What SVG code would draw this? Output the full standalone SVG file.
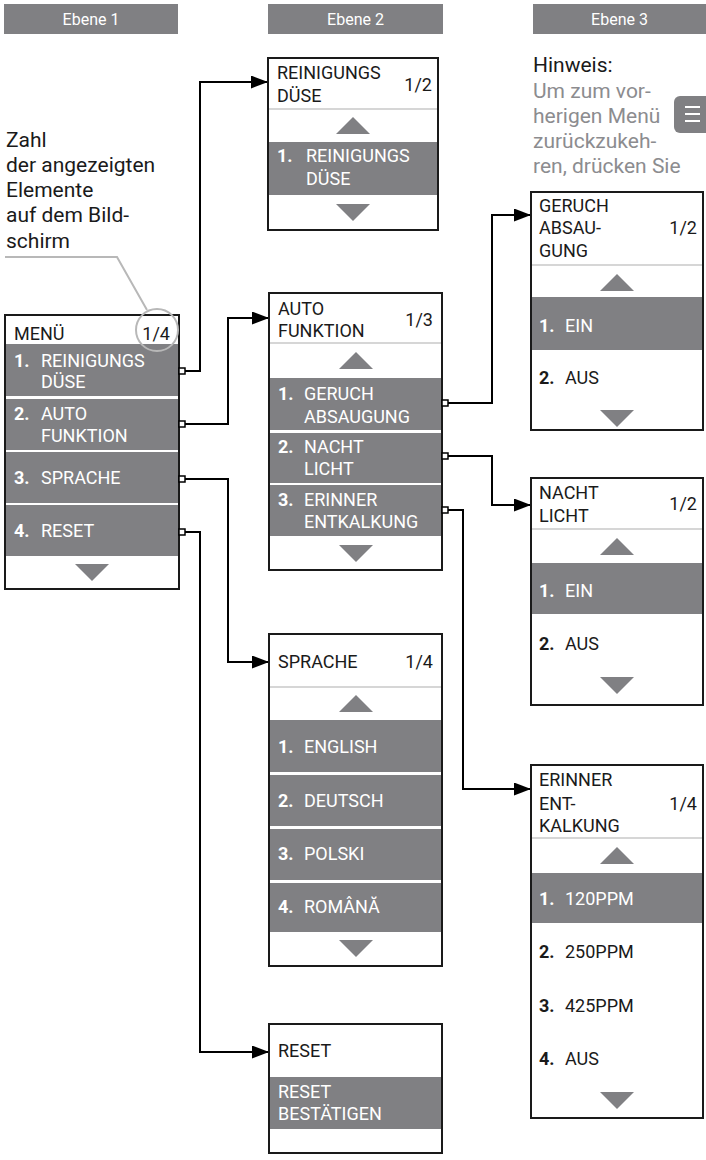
<svg xmlns="http://www.w3.org/2000/svg" width="706" height="1160" viewBox="0 0 706 1160">
<style>
.bar{fill:#808083}
.bt{font-family:Roboto,"Liberation Sans",sans-serif;font-size:16px;fill:#fff;text-anchor:middle}
.box{fill:#fff;stroke:#1a1a1a;stroke-width:2}
.sel{fill:#808083}
.sep{stroke:#c8c8c8;stroke-width:1.5}
.tri{fill:#808083}
.t{font-family:Roboto,"Liberation Sans",sans-serif;font-size:18px;fill:#1a1a1a}
.w{fill:#fff}
.b{font-weight:bold}
.e{text-anchor:end}
.note{font-family:Roboto,"Liberation Sans",sans-serif;font-size:21px;fill:#1a1a1a}
.hint{fill:#8c8c8f}
.conn{fill:none;stroke:#000;stroke-width:2}
.port{fill:#fff;stroke:#000;stroke-width:1.5}
.ann{fill:none;stroke:#b8b8b8;stroke-width:2}
</style>
<defs>
<marker id="ah" markerUnits="userSpaceOnUse" markerWidth="17" markerHeight="13" refX="17" refY="6.5" orient="auto">
<path d="M0,0 L17,6.5 L0,13 z" fill="#000"/>
</marker>
</defs>

<g id="headers">
<rect class="bar" x="4" y="4" width="174" height="30"/>
<text class="bt" x="91" y="25">Ebene 1</text>
<rect class="bar" x="268" y="4" width="175" height="30"/>
<text class="bt" x="355.5" y="25">Ebene 2</text>
<rect class="bar" x="533" y="4" width="173" height="30"/>
<text class="bt" x="619.5" y="25">Ebene 3</text>
</g>

<g id="annotation">
<text class="note" x="6" y="147">Zahl</text>
<text class="note" x="6" y="172">der angezeigten</text>
<text class="note" x="6" y="197">Elemente</text>
<text class="note" x="6" y="222">auf dem Bild-</text>
<text class="note" x="6" y="248">schirm</text>
<polyline class="ann" points="5,257 117,257 147,310"/>
</g>

<g id="hint">
<text class="note" x="533" y="72">Hinweis:</text>
<text class="note hint" x="533" y="98">Um zum vor-</text>
<text class="note hint" x="533" y="123">herigen Menü</text>
<text class="note hint" x="533" y="148">zurückzukeh-</text>
<text class="note hint" x="533" y="173">ren, drücken Sie</text>
<rect x="674" y="96" width="40" height="37" rx="6" fill="#808083"/>
<path d="M685,107 H700 M685,114 H700 M685,121 H700" stroke="#fff" stroke-width="2"/>
</g>

<g id="connectors">
<polyline class="conn" points="185,371 200,371 200,82 268,82" marker-end="url(#ah)"/>
<polyline class="conn" points="185,424 228,424 228,318 269,318" marker-end="url(#ah)"/>
<polyline class="conn" points="185,479 228,479 228,662 269,662" marker-end="url(#ah)"/>
<polyline class="conn" points="185,532 200,532 200,1052 269,1052" marker-end="url(#ah)"/>
<polyline class="conn" points="448,403 492,403 492,215 531,215" marker-end="url(#ah)"/>
<polyline class="conn" points="448,456 492,456 492,505 531,505" marker-end="url(#ah)"/>
<polyline class="conn" points="448,510 463,510 463,789 531,789" marker-end="url(#ah)"/>
</g>

<g id="menu">
<rect class="box" x="5" y="315" width="174" height="274"/>
<rect class="sel" x="6" y="344" width="172" height="52"/>
<rect class="sel" x="6" y="399" width="172" height="51"/>
<rect class="sel" x="6" y="452" width="172" height="51"/>
<rect class="sel" x="6" y="505" width="172" height="51"/>
<polygon class="tri" points="75,564 109,564 92,581"/>
<text class="t" x="14" y="340">MENÜ</text>
<text class="t e" x="170" y="340">1/4</text>
<text class="t w b" x="14" y="367">1.</text>
<text class="t w" x="41" y="367">REINIGUNGS</text>
<text class="t w" x="41" y="388">DÜSE</text>
<text class="t w b" x="14" y="420">2.</text>
<text class="t w" x="41" y="420">AUTO</text>
<text class="t w" x="41" y="442">FUNKTION</text>
<text class="t w b" x="14" y="484">3.</text>
<text class="t w" x="41" y="484">SPRACHE</text>
<text class="t w b" x="14" y="537">4.</text>
<text class="t w" x="41" y="537">RESET</text>
<circle class="ann" cx="157" cy="330" r="21"/>
<rect class="port" x="179" y="368" width="6" height="6"/>
<rect class="port" x="179" y="421" width="6" height="6"/>
<rect class="port" x="179" y="476" width="6" height="6"/>
<rect class="port" x="179" y="529" width="6" height="6"/>
</g>

<g id="reinigungsduese">
<rect class="box" x="268" y="58" width="170" height="172"/>
<line class="sep" x1="269" y1="109" x2="437" y2="109"/>
<polygon class="tri" points="353,117 370,134 336,134"/>
<rect class="sel" x="269" y="142" width="168" height="53"/>
<polygon class="tri" points="336,204 370,204 353,221"/>
<text class="t" x="277" y="79">REINIGUNGS</text>
<text class="t" x="277" y="102">DÜSE</text>
<text class="t e" x="432" y="91">1/2</text>
<text class="t w b" x="277" y="162">1.</text>
<text class="t w" x="306" y="162">REINIGUNGS</text>
<text class="t w" x="306" y="185">DÜSE</text>
</g>

<g id="autofunktion">
<rect class="box" x="269" y="293" width="173" height="277"/>
<line class="sep" x1="270" y1="343" x2="441" y2="343"/>
<polygon class="tri" points="356,352 373,369 339,369"/>
<rect class="sel" x="270" y="378" width="171" height="52"/>
<rect class="sel" x="270" y="433" width="171" height="50"/>
<rect class="sel" x="270" y="485" width="171" height="51"/>
<polygon class="tri" points="339,545 373,545 356,562"/>
<text class="t" x="278" y="315">AUTO</text>
<text class="t" x="278" y="337">FUNKTION</text>
<text class="t e" x="433" y="326">1/3</text>
<text class="t w b" x="278" y="400">1.</text>
<text class="t w" x="304" y="400">GERUCH</text>
<text class="t w" x="304" y="423">ABSAUGUNG</text>
<text class="t w b" x="278" y="453">2.</text>
<text class="t w" x="304" y="453">NACHT</text>
<text class="t w" x="304" y="475">LICHT</text>
<text class="t w b" x="278" y="506">3.</text>
<text class="t w" x="304" y="506">ERINNER</text>
<text class="t w" x="304" y="528">ENTKALKUNG</text>
<rect class="port" x="442" y="400" width="6" height="6"/>
<rect class="port" x="442" y="453" width="6" height="6"/>
<rect class="port" x="442" y="507" width="6" height="6"/>
</g>

<g id="sprache">
<rect class="box" x="269" y="634" width="173" height="332"/>
<line class="sep" x1="270" y1="687" x2="441" y2="687"/>
<polygon class="tri" points="356,695 373,712 339,712"/>
<rect class="sel" x="270" y="720" width="171" height="52"/>
<rect class="sel" x="270" y="775" width="171" height="51"/>
<rect class="sel" x="270" y="829" width="171" height="51"/>
<rect class="sel" x="270" y="883" width="171" height="49"/>
<polygon class="tri" points="339,940 373,940 356,957"/>
<text class="t" x="278" y="668">SPRACHE</text>
<text class="t e" x="433" y="668">1/4</text>
<text class="t w b" x="278" y="753">1.</text>
<text class="t w" x="304" y="753">ENGLISH</text>
<text class="t w b" x="278" y="807">2.</text>
<text class="t w" x="304" y="807">DEUTSCH</text>
<text class="t w b" x="278" y="860">3.</text>
<text class="t w" x="304" y="860">POLSKI</text>
<text class="t w b" x="278" y="913">4.</text>
<text class="t w" x="304" y="913">ROMÂNĂ</text>
</g>

<g id="reset">
<rect class="box" x="269" y="1024" width="173" height="129"/>
<rect class="sel" x="270" y="1077" width="171" height="52"/>
<text class="t" x="278" y="1057">RESET</text>
<text class="t w" x="278" y="1098">RESET</text>
<text class="t w" x="278" y="1120">BESTÄTIGEN</text>
</g>

<g id="geruchabsaugung">
<rect class="box" x="531" y="192" width="172" height="238"/>
<line class="sep" x1="532" y1="265" x2="702" y2="265"/>
<polygon class="tri" points="617,274 634,291 600,291"/>
<rect class="sel" x="532" y="297" width="170" height="53"/>
<polygon class="tri" points="600,410 634,410 617,427"/>
<text class="t" x="539" y="212">GERUCH</text>
<text class="t" x="539" y="234">ABSAU-</text>
<text class="t" x="539" y="257">GUNG</text>
<text class="t e" x="697" y="234">1/2</text>
<text class="t w b" x="539" y="332">1.</text>
<text class="t w" x="565" y="332">EIN</text>
<text class="t b" x="539" y="384">2.</text>
<text class="t" x="565" y="384">AUS</text>
</g>

<g id="nachtlicht">
<rect class="box" x="531" y="478" width="172" height="227"/>
<line class="sep" x1="532" y1="529" x2="702" y2="529"/>
<polygon class="tri" points="617,538 634,555 600,555"/>
<rect class="sel" x="532" y="563" width="170" height="51"/>
<polygon class="tri" points="600,677 634,677 617,694"/>
<text class="t" x="539" y="499">NACHT</text>
<text class="t" x="539" y="522">LICHT</text>
<text class="t e" x="697" y="510">1/2</text>
<text class="t w b" x="539" y="597">1.</text>
<text class="t w" x="565" y="597">EIN</text>
<text class="t b" x="539" y="650">2.</text>
<text class="t" x="565" y="650">AUS</text>
</g>

<g id="erinnerentkalkung">
<rect class="box" x="531" y="765" width="172" height="353"/>
<line class="sep" x1="532" y1="838" x2="702" y2="838"/>
<polygon class="tri" points="617,847 634,864 600,864"/>
<rect class="sel" x="532" y="873" width="170" height="50"/>
<polygon class="tri" points="600,1092 634,1092 617,1109"/>
<text class="t" x="539" y="786">ERINNER</text>
<text class="t" x="539" y="810">ENT-</text>
<text class="t" x="539" y="832">KALKUNG</text>
<text class="t e" x="697" y="810">1/4</text>
<text class="t w b" x="539" y="905">1.</text>
<text class="t w" x="565" y="905">120PPM</text>
<text class="t b" x="539" y="958">2.</text>
<text class="t" x="565" y="958">250PPM</text>
<text class="t b" x="539" y="1012">3.</text>
<text class="t" x="565" y="1012">425PPM</text>
<text class="t b" x="539" y="1065">4.</text>
<text class="t" x="565" y="1065">AUS</text>
</g>
</svg>
